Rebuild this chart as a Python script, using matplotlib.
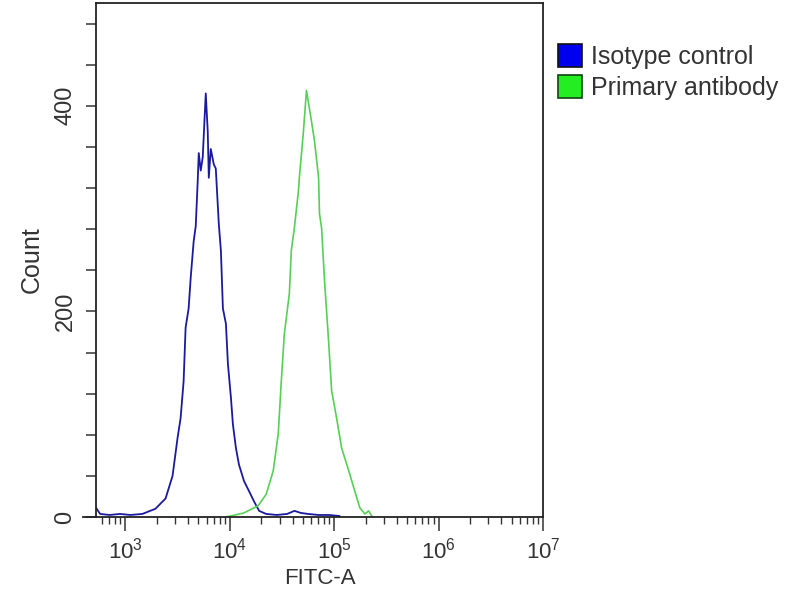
import math
import matplotlib
matplotlib.use("Agg")
import matplotlib.pyplot as plt
from matplotlib.patches import Patch
from matplotlib.ticker import LogLocator, FixedLocator, NullFormatter, FuncFormatter
from matplotlib.lines import Line2D

plt.rcParams['font.family'] = ['Liberation Sans', 'DejaVu Sans']
plt.rcParams['mathtext.fontset'] = 'custom'
plt.rcParams['mathtext.rm'] = 'Liberation Sans'
plt.rcParams['mathtext.it'] = 'Liberation Sans'
plt.rcParams['mathtext.bf'] = 'Liberation Sans'

# ---- data ----
isotype_x = [525, 575, 708, 891, 1122, 1459, 1945, 2432, 2838, 3170, 3388, 3622,
             3784, 4046, 4236, 4519, 4732, 4943, 5058, 5284, 5521, 5902, 6166,
             6310, 6592, 7047, 7362, 7870, 8241, 8610, 9204, 9616, 10280, 10740,
             11480, 12270, 13710, 15350, 17140, 19140, 22340, 28180, 35480,
             41690, 47860, 56230, 70790, 89130, 112200]
isotype_y = [9, 3, 2, 3, 2, 3, 8, 18, 40, 77, 96, 132,
             184, 203, 233, 268, 283, 327, 354, 337, 350, 412, 375,
             330, 358, 343, 339, 285, 259, 203, 188, 149, 116, 90,
             67, 51, 35, 25, 15, 6, 3, 2, 3,
             6, 4, 3, 2, 2, 1]

primary_x = [8913, 10280, 13710, 18710, 22340, 26120, 29170, 31190, 33340, 37240,
             38900, 41590, 45500, 46450, 50820, 54330, 60670, 64860, 70960, 72440,
             75860, 80910, 88510, 94620, 105700, 118000, 138000, 157800, 176200,
             196800, 213800, 229100]
primary_y = [0, 1, 4, 11, 22, 45, 81, 132, 178, 217,
             259, 281, 317, 330, 375, 415, 385, 366, 330, 295,
             281, 230, 171, 123, 96, 67, 45, 25, 9,
             3, 6, 1]

series_labels = ["Isotype control", "Primary antibody"]
x_label = "FITC-A"
y_label = "Count"
y_tick_values = [0, 200, 400]
y_minor_values = [40, 80, 120, 160, 240, 280, 320, 360, 440, 480]

# ---- figure ----
fig = plt.figure(figsize=(8, 6), dpi=100)
ax = fig.add_axes([0.12, 0.1383, 0.5588, 0.8567])

ax.plot(isotype_x, isotype_y, color='#1a1aa0', lw=1.3)
ax.plot(primary_x, primary_y, color='#55d055', lw=1.2)

ax.set_xscale('log')
ax.set_xlim(525, 1e7)
ax.set_ylim(0, 500)

txt = '#333333'
ax.xaxis.set_major_locator(LogLocator(base=10, numticks=10))
ax.xaxis.set_minor_locator(LogLocator(base=10, subs=range(2, 10), numticks=20))
ax.xaxis.set_minor_formatter(NullFormatter())
ax.xaxis.set_major_formatter(FuncFormatter(
    lambda v, p: r'$\mathregular{10^{%d}}$' % round(math.log10(v))))

ax.yaxis.set_major_locator(FixedLocator(y_tick_values))
ax.yaxis.set_minor_locator(FixedLocator(y_minor_values))

ax.tick_params(axis='x', which='major', direction='out', length=10, width=1.1,
               pad=5, labelsize=16, colors='#333333')
ax.tick_params(axis='x', which='minor', direction='out', length=5, width=1.0,
               colors='#333333')
ax.tick_params(axis='y', which='both', direction='out', length=7, width=1.1,
               pad=7, labelsize=17, colors='#333333')
for lab in ax.get_yticklabels():
    lab.set_rotation(90)
    lab.set_va('center')

for s in ax.spines.values():
    s.set_linewidth(1.3)
    s.set_color('#222222')

# slight extension of the baseline to the left of the frame
ax.add_line(Line2D([-0.03, 0], [0, 0], transform=ax.transAxes, color='#222222',
                   lw=1.3, clip_on=False))

ax.set_xlabel(x_label, fontsize=16, color=txt, labelpad=3)
ax.set_ylabel(y_label, fontsize=18, color=txt, labelpad=8)

handles = [Patch(facecolor='#0000ee', edgecolor='#111111', lw=1.2),
           Patch(facecolor='#22ee22', edgecolor='#114411', lw=1.2)]
fig.legend(handles, series_labels, loc='upper left',
           bbox_to_anchor=(558 / 800, 1 - 44 / 600), frameon=False,
           fontsize=18, handlelength=0.96, handleheight=1.04,
           handletextpad=0.36, labelspacing=0.24, borderpad=0,
           borderaxespad=0, labelcolor=txt)

fig.savefig('out.png', dpi=100)
